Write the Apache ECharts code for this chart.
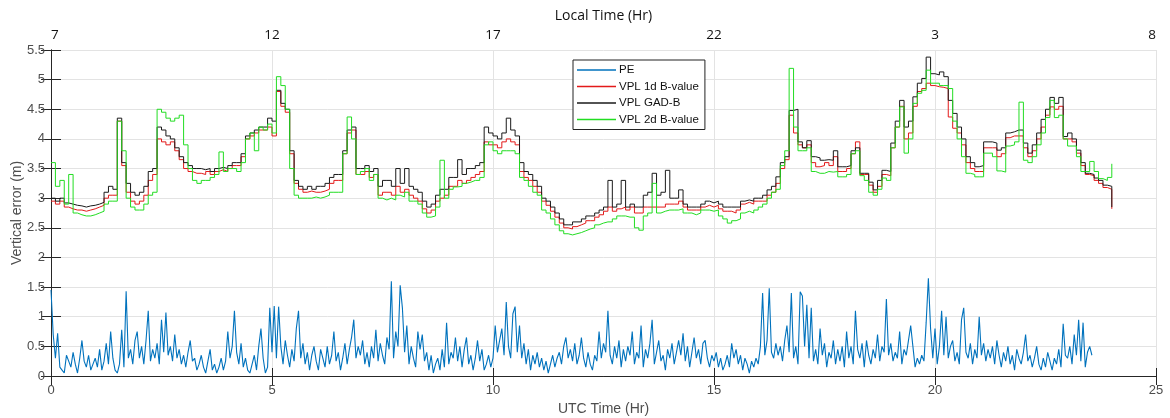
<!DOCTYPE html>
<html>
<head>
<meta charset="utf-8">
<script src="https://cdn.jsdelivr.net/npm/echarts@6/dist/echarts.min.js"></script>
<style>
html,body{margin:0;padding:0;background:#fff;}
#chart{width:1170px;height:418px;}
</style>
</head>
<body>
<div id="chart"></div>
<script>
// ---- Data ----
const SERIES_NAMES = ['PE', 'VPL 1d B-value', 'VPL GAD-B', 'VPL 2d B-value'];
const UTC_TICKS = [0, 5, 10, 15, 20, 25];
const LOCAL_TICK_LABELS = ['7', '12', '17', '22', '3', '8'];

// VPL series sampled every 0.1 h from 0 h to 24.0 h
const VPL_STEP_HR = 0.1;
const vplGADB = [
3.0,2.95,3.0,2.92,2.9,2.88,2.87,2.85,2.87,2.88,
2.9,2.93,3.1,3.2,3.15,4.35,3.6,3.25,3.1,3.05,
3.1,3.2,3.45,3.5,4.2,4.15,4.05,4.0,3.85,3.7,
3.6,3.55,3.5,3.5,3.48,3.5,3.45,3.5,3.52,3.5,
3.55,3.6,3.6,3.75,4.05,4.1,4.15,4.2,4.2,4.35,
4.3,4.82,4.6,4.5,3.8,3.3,3.2,3.15,3.2,3.15,
3.2,3.2,3.25,3.35,3.4,3.4,3.8,4.15,4.2,3.5,
3.5,3.55,3.45,3.5,3.2,3.3,3.3,3.2,3.5,3.25,
3.5,3.2,3.15,3.1,2.95,2.85,2.9,3.05,3.15,3.15,
3.35,3.35,3.65,3.4,3.5,3.5,3.55,3.6,4.2,4.1,
4.05,4.0,4.1,4.35,4.15,4.05,3.6,3.45,3.4,3.3,
3.2,3.0,2.95,2.85,2.75,2.65,2.55,2.55,2.6,2.6,
2.65,2.7,2.7,2.75,2.8,2.85,3.3,2.85,2.9,3.3,
2.85,2.9,2.85,2.85,3.05,3.1,3.42,3.05,3.1,3.47,
3.0,3.0,3.14,2.9,2.85,2.85,2.85,2.9,2.95,2.92,
2.95,2.9,2.85,2.85,2.85,2.85,2.95,2.97,2.95,3.0,
3.0,3.05,3.14,3.2,3.36,3.6,3.7,4.48,4.5,3.95,
3.85,3.97,3.7,3.68,3.64,3.65,3.64,3.8,3.53,3.53,
3.55,3.8,3.85,3.42,3.42,3.27,3.14,3.3,3.47,3.45,
3.93,4.3,4.65,4.2,4.3,4.71,4.94,5.02,5.38,5.1,
5.08,5.13,5.05,4.65,4.43,4.2,4.0,3.7,3.6,3.53,
3.55,3.95,3.95,3.93,3.81,3.85,4.1,4.12,4.15,4.15,
3.93,3.76,3.9,4.1,4.33,4.5,4.7,4.6,4.7,4.04,
4.1,4.0,3.81,3.6,3.42,3.4,3.34,3.3,3.22,3.2,
2.85
];
const vpl1d = [
2.95,2.9,2.95,2.85,2.82,2.8,2.8,2.78,2.8,2.82,
2.85,2.88,3.0,3.05,3.05,4.3,3.55,3.1,2.95,2.9,
2.95,3.05,3.3,3.4,4.0,3.95,3.9,3.95,3.8,3.65,
3.5,3.45,3.42,3.42,3.4,3.45,3.4,3.45,3.48,3.45,
3.5,3.55,3.55,3.7,4.0,4.05,4.1,4.15,4.15,4.2,
4.05,4.8,4.55,4.45,3.75,3.25,3.15,3.1,3.12,3.1,
3.1,3.12,3.15,3.25,3.3,3.3,3.75,4.1,4.15,3.4,
3.4,3.45,3.35,3.4,3.05,3.1,3.1,3.05,3.2,3.1,
3.15,3.05,3.0,2.95,2.82,2.75,2.8,2.95,3.0,3.05,
3.2,3.2,3.3,3.25,3.3,3.35,3.4,3.45,3.95,3.9,
3.9,3.85,3.95,4.0,3.95,3.9,3.45,3.35,3.3,3.2,
3.1,2.95,2.88,2.78,2.68,2.58,2.5,2.48,2.52,2.55,
2.58,2.62,2.62,2.68,2.72,2.78,2.85,2.78,2.82,2.85,
2.8,2.85,2.75,2.75,2.85,2.85,2.85,2.85,2.85,2.9,
2.9,2.9,2.95,2.85,2.8,2.8,2.8,2.85,2.88,2.85,
2.88,2.82,2.78,2.78,2.75,2.8,2.9,2.93,2.9,2.95,
2.95,2.95,3.05,3.1,3.25,3.5,3.65,4.4,4.1,3.9,
3.85,3.9,3.6,3.53,3.55,3.6,3.55,3.7,3.45,3.45,
3.5,3.75,3.95,3.4,3.4,3.22,3.1,3.2,3.4,3.38,
3.85,4.2,4.55,4.0,4.1,4.55,4.8,4.85,4.94,4.9,
4.88,4.87,4.85,4.37,4.18,4.1,3.9,3.6,3.5,3.45,
3.45,3.85,3.85,3.85,3.7,3.75,4.02,4.05,4.05,4.05,
3.85,3.7,3.8,4.0,4.2,4.4,4.54,4.5,4.55,4.0,
4.0,3.95,3.76,3.55,3.4,3.38,3.3,3.25,3.18,3.15,
2.82
];
const vpl2d = [
3.6,3.2,3.3,2.9,3.4,2.75,2.72,2.7,2.7,2.72,
2.75,2.78,2.9,2.95,2.95,4.3,3.8,3.0,2.85,2.8,
2.8,2.9,3.05,3.1,4.5,4.45,4.35,4.3,4.35,4.4,
3.9,3.5,3.3,3.25,3.3,3.3,3.35,3.4,3.78,3.45,
3.5,3.5,3.45,3.6,4.0,4.1,3.8,4.2,4.15,4.25,
4.1,5.05,4.9,4.5,3.5,3.05,3.0,3.0,3.0,3.02,
3.0,3.02,3.05,3.1,3.1,3.1,3.75,4.37,4.0,3.4,
3.45,3.5,3.3,3.4,3.0,2.97,3.0,2.97,3.05,3.02,
3.1,2.95,2.95,2.9,2.75,2.68,2.7,2.85,3.64,3.0,
3.15,3.19,3.2,3.25,3.27,3.3,3.3,3.35,3.9,3.95,
3.8,3.75,3.8,3.8,3.8,3.75,3.35,3.3,3.2,3.1,
3.05,2.8,2.75,2.65,2.55,2.45,2.4,2.38,2.4,2.42,
2.45,2.48,2.5,2.55,2.58,2.6,2.6,2.65,2.7,2.7,
2.68,2.68,2.5,2.46,2.7,2.75,3.25,2.75,2.78,2.8,
2.8,2.8,2.82,2.75,2.75,2.72,2.75,2.8,2.8,2.78,
2.8,2.7,2.65,2.58,2.62,2.65,2.75,2.78,2.75,2.8,
2.85,2.9,3.0,3.1,3.15,3.55,3.8,5.19,4.2,3.8,
3.8,3.85,3.45,3.42,3.42,3.45,3.44,3.45,3.36,3.36,
3.4,3.75,3.8,3.38,3.3,3.1,3.05,3.15,3.34,3.3,
3.85,4.2,4.54,3.76,4.0,4.6,4.77,4.82,5.16,4.94,
4.94,4.9,4.9,4.85,4.3,4.0,3.7,3.42,3.4,3.36,
3.36,3.76,3.76,3.7,3.46,3.44,3.88,3.9,3.95,4.62,
3.64,3.6,3.7,3.9,4.1,4.36,4.65,4.36,4.4,4.0,
3.88,3.88,3.7,3.45,3.45,3.62,3.45,3.33,3.3,3.35,
3.58
];

// PE sampled every 0.05 h from 0 h to 23.55 h
const PE_STEP_HR = 0.05;
const pe = [
1.45,0.7,0.3,0.72,0.15,0.1,0.05,0.35,0.25,0.15,0.4,0.2,0.05,0.3,0.6,0.25,0.15,0.35,0.1,0.2,
0.3,0.15,0.45,0.1,0.25,0.55,0.2,0.75,0.3,0.1,0.05,0.2,0.78,0.15,1.43,0.3,0.45,0.2,0.6,0.75,
0.3,0.5,0.2,0.6,1.1,0.25,0.45,0.3,0.55,0.2,0.95,0.4,1.07,0.35,0.5,0.25,0.7,0.3,0.45,0.2,
0.35,0.15,0.4,0.6,0.25,0.3,0.1,0.2,0.35,0.15,0.05,0.25,0.45,0.1,0.2,0.05,0.15,0.3,0.1,0.25,
0.75,0.3,0.5,1.1,0.4,0.2,0.55,0.15,0.3,0.1,0.05,0.2,0.35,0.1,0.5,0.8,0.3,0.05,0.15,1.15,
0.4,1.18,0.3,1.17,0.5,0.2,0.6,0.35,0.15,0.45,0.25,0.8,1.1,0.3,0.55,0.2,0.4,0.1,0.35,0.5,
0.25,0.1,0.45,0.3,0.15,0.5,0.2,0.35,0.75,0.25,0.4,0.1,0.3,0.55,0.2,0.45,0.65,0.95,0.3,0.5,
0.35,0.6,0.2,0.4,0.15,0.5,0.3,0.78,0.25,0.55,0.35,0.2,0.65,0.45,1.6,0.3,0.75,0.5,1.53,1.15,
0.4,0.85,0.2,0.5,0.3,0.15,0.75,0.45,0.7,0.25,0.4,0.1,0.35,0.05,0.2,0.3,0.1,0.45,0.15,0.9,
0.2,0.4,0.3,0.65,0.25,0.5,0.15,0.45,0.65,0.2,0.35,0.1,0.3,0.6,0.25,0.45,0.1,0.2,0.35,0.15,
0.3,0.85,0.4,0.6,0.8,0.35,1.25,0.5,0.3,1.05,1.17,0.4,0.85,0.3,0.55,0.2,0.45,0.1,0.35,0.2,
0.4,0.15,0.3,0.1,0.25,0.05,0.2,0.35,0.15,0.3,0.4,0.2,0.5,0.65,0.3,0.45,0.25,0.55,0.2,0.35,
0.65,0.3,0.15,0.4,0.2,0.1,0.35,0.25,0.75,0.3,0.55,0.4,1.1,0.35,0.2,0.5,0.3,0.6,0.15,0.45,
0.25,0.5,0.35,0.75,0.2,0.4,0.3,0.85,0.15,0.45,0.3,0.55,0.95,0.2,0.4,0.6,0.25,0.35,0.1,0.45,
0.3,0.55,0.2,0.4,0.6,0.35,0.72,0.25,0.5,0.15,0.4,0.65,0.3,0.45,0.2,0.55,0.6,0.3,0.15,0.35,
0.25,0.4,0.15,0.3,0.1,0.2,0.35,0.15,0.55,0.3,0.45,0.2,0.35,0.1,0.3,0.2,0.05,0.25,0.15,0.3,
0.2,0.5,1.4,0.35,0.6,1.48,0.4,0.3,0.55,0.35,0.5,0.25,0.6,0.85,0.4,1.4,0.3,0.5,0.2,1.42,
1.35,0.5,1.2,0.3,1.15,0.25,0.45,0.2,0.8,0.35,0.55,0.15,0.4,0.3,0.6,0.2,0.45,0.25,0.5,0.15,
0.75,0.3,0.5,0.2,1.1,0.45,0.3,0.55,0.15,0.6,0.35,0.2,0.45,0.3,0.7,0.25,0.5,0.4,1.3,0.35,
0.55,0.25,0.4,0.3,0.75,0.2,0.45,0.35,0.6,0.85,0.5,0.15,0.3,0.2,0.35,0.25,0.9,1.65,0.8,0.3,
0.8,0.2,0.5,1.1,0.35,1.0,0.3,0.5,0.6,0.25,0.4,0.2,0.95,1.15,0.4,0.3,0.55,0.2,0.45,0.3,
1.0,0.35,0.55,0.25,0.45,0.3,0.5,0.2,0.6,0.35,0.15,0.4,0.25,0.5,0.2,0.35,0.1,0.45,0.3,0.2,
0.4,0.7,0.25,0.35,0.15,0.3,0.5,0.2,0.1,0.3,0.15,0.4,0.25,0.1,0.3,0.2,0.45,0.15,0.88,0.35,
0.3,0.5,0.2,0.7,0.35,0.95,0.25,0.9,0.15,0.4,0.5,0.35
];

// ---- Build ----
function toPairs(values, step) {
  return values.map((v, i) => [+(i * step).toFixed(3), v]);
}
const COLORS = ['#0072BD', '#e31a1a', '#1a1a1a', '#22dd22'];
const axisGray = '#262626';
const labelGray = '#4d4d4d';
const gridGray = '#e3e3e3';
const tickFont = 'Liberation Sans, Arial, sans-serif';

const chart = echarts.init(document.getElementById('chart'), null, {renderer: 'canvas'});
const option = {
  animation: false,
  backgroundColor: '#fff',
  grid: {left: 51, right: 14, top: 50, bottom: 42, containLabel: false, outerBoundsMode: 'none'},
  legend: {
    orient: 'vertical',
    left: 573,
    top: 60,
    data: SERIES_NAMES,
    icon: 'rect',
    itemWidth: 39,
    itemHeight: 1.5,
    itemGap: 2.5,
    padding: [3, 6, 3, 4],
    borderColor: '#222',
    borderWidth: 1,
    backgroundColor: '#fff',
    textStyle: {fontSize: 11.5, color: '#111', fontFamily: tickFont, lineHeight: 14, padding: [0, 0, 0, -2]}
  },
  xAxis: [
    {
      type: 'value', position: 'bottom', min: UTC_TICKS[0], max: UTC_TICKS[UTC_TICKS.length - 1], interval: 5,
      name: 'UTC Time (Hr)', nameLocation: 'middle', nameGap: 25,
      nameTextStyle: {fontSize: 14, color: labelGray, fontFamily: tickFont},
      axisLine: {show: true, lineStyle: {color: axisGray, width: 1}},
      axisTick: {show: true, inside: true, length: 8, lineStyle: {color: axisGray}},
      axisLabel: {fontSize: 13, color: labelGray, fontFamily: tickFont, margin: 8},
      splitLine: {show: true, lineStyle: {color: gridGray, width: 1}}
    },
    {
      type: 'value', position: 'top', min: UTC_TICKS[0], max: UTC_TICKS[UTC_TICKS.length - 1], interval: 5,
      name: 'Local Time (Hr)', nameLocation: 'middle', nameGap: 25,
      nameTextStyle: {fontSize: 14, color: '#111', fontFamily: 'Open Sans, sans-serif'},
      axisLine: {show: true, lineStyle: {color: axisGray, width: 1}},
      axisTick: {show: true, inside: true, length: 9, lineStyle: {color: axisGray}},
      axisLabel: {
        fontSize: 13.5, color: '#111', fontFamily: 'Open Sans, sans-serif', margin: 8,
        alignMinLabel: 'left', alignMaxLabel: 'right',
        formatter: function (v) { const i = UTC_TICKS.indexOf(v); return i >= 0 ? LOCAL_TICK_LABELS[i] : ''; }
      },
      splitLine: {show: false}
    }
  ],
  yAxis: [
    {
      type: 'value', position: 'left', min: 0, max: 5.5, interval: 0.5,
      name: 'Vertical error (m)', nameLocation: 'middle', nameGap: 27, nameMoveOverlap: false,
      nameTextStyle: {fontSize: 14, color: labelGray, fontFamily: tickFont},
      axisLine: {show: true, lineStyle: {color: axisGray, width: 1}},
      axisTick: {show: true, inside: true, length: 10, lineStyle: {color: axisGray}},
      axisLabel: {fontSize: 13, color: labelGray, fontFamily: tickFont, margin: 6},
      splitLine: {show: true, lineStyle: {color: gridGray, width: 1}}
    },
    {
      type: 'value', position: 'right', min: 0, max: 5.5, interval: 0.5,
      axisLine: {show: true, lineStyle: {color: axisGray, width: 1}},
      axisTick: {show: true, inside: true, length: 10, lineStyle: {color: axisGray}},
      axisLabel: {show: false},
      splitLine: {show: false}
    }
  ],
  series: [
    {name: SERIES_NAMES[0], type: 'line', data: toPairs(pe, PE_STEP_HR), symbol: 'none',
     lineStyle: {width: 1.1, color: COLORS[0]}, itemStyle: {color: COLORS[0]}},
    {name: SERIES_NAMES[1], type: 'line', step: 'end', data: toPairs(vpl1d, VPL_STEP_HR), symbol: 'none',
     lineStyle: {width: 1, color: COLORS[1]}, itemStyle: {color: COLORS[1]}},
    {name: SERIES_NAMES[2], type: 'line', step: 'end', data: toPairs(vplGADB, VPL_STEP_HR), symbol: 'none',
     lineStyle: {width: 1, color: COLORS[2]}, itemStyle: {color: COLORS[2]}},
    {name: SERIES_NAMES[3], type: 'line', step: 'end', data: toPairs(vpl2d, VPL_STEP_HR), symbol: 'none',
     lineStyle: {width: 1, color: COLORS[3]}, itemStyle: {color: COLORS[3]}}
  ]
};
chart.setOption(option);
</script>
</body>
</html>
